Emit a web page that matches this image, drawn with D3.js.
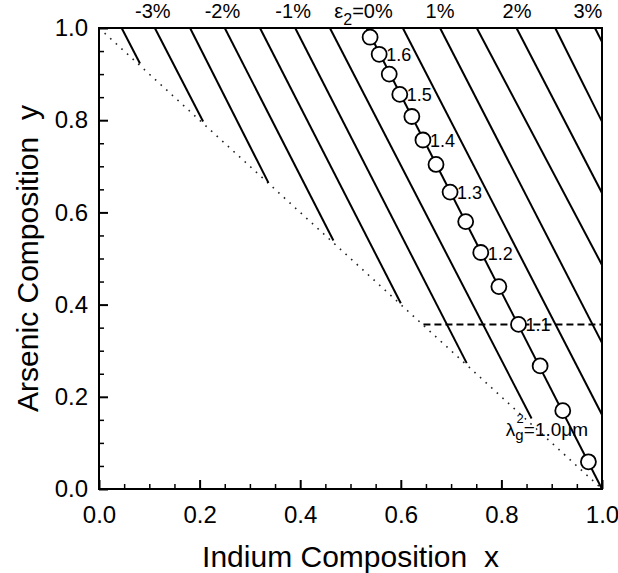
<!DOCTYPE html>
<meta charset="utf-8">
<div id="area"></div>

<script src="https://d3js.org/d3.v7.min.js"></script>

<style>
  body {
    background: #fff;
    margin: 0;
    font-family: "Liberation Sans", Arial, Helvetica, sans-serif;
  }
  svg text { fill: #000; white-space: pre; }
</style>

<script>
// iso-strain lines (eps2 in %), each one runs from the top edge (y = 1) to its end point
var strain = [-3.5, -3, -2.5, -2, -1.5, -1, -0.5, 0, 0.5, 1, 1.5, 2, 2.5, 3];
var topX   = [0.045, 0.111, 0.181, 0.250, 0.320, 0.390, 0.459, 0.532, 0.604, 0.678, 0.751, 0.830, 0.907, 0.986];
var endX   = [0.0815, 0.207, 0.337, 0.466, 0.600, 0.731, 0.860, 1, 1, 1, 1, 1, 1, 1];
var endY   = [0.923, 0.797, 0.664, 0.539, 0.403, 0.273, 0.153, 0, 0.161, 0.317, 0.486, 0.642, 0.797, 0.970];

// labels above the frame
var strainLabels = ["-3%", "-2%", "-1%", "0%", "1%", "2%", "3%"];
var strainLabelX = [0.107, 0.2455, 0.386, 0.526, 0.678, 0.831, 0.972];

// bandgap wavelength (um) points on the eps2 = 0 line
var wavelength = [1.65, 1.60, 1.55, 1.50, 1.45, 1.40, 1.35, 1.30, 1.25, 1.20, 1.15, 1.10, 1.05, 1.00, 0.95];
var circX = [0.539, 0.557, 0.577, 0.598, 0.622, 0.644, 0.670, 0.698, 0.729, 0.759, 0.795, 0.834, 0.877, 0.922, 0.973];
var circY = [0.980, 0.943, 0.900, 0.856, 0.808, 0.757, 0.704, 0.644, 0.580, 0.513, 0.439, 0.357, 0.267, 0.170, 0.059];
var wlLabeled = [1.6, 1.5, 1.4, 1.3, 1.2, 1.1];

// dotted boundary and dashed line
var boundX = [0, 1];
var boundY = [1, 0];
var dashX = [0.645, 1];
var dashY = [0.357, 0.357];

var xTicks = [0, 0.2, 0.4, 0.6, 0.8, 1.0];
var yTicks = [0, 0.2, 0.4, 0.6, 0.8, 1.0];

var margin = {top: 28, right: 16, bottom: 84, left: 99},
    width = 618 - margin.left - margin.right,
    height = 573 - margin.top - margin.bottom;

var svg = d3.select("#area")
  .append("svg")
    .attr("width", width + margin.left + margin.right)
    .attr("height", height + margin.top + margin.bottom)
  .append("g")
    .attr("transform", "translate(" + margin.left + "," + margin.top + ")");

var x = d3.scaleLinear().domain([0, 1]).range([0, width]);
var y = d3.scaleLinear().domain([0, 1]).range([height, 0]);

var minor = d3.range(0, 21).map(function(i) { return i * 0.05; })
  .filter(function(v) { return Math.abs(v * 5 - Math.round(v * 5)) > 1e-6; });

// minor ticks
svg.append("g")
  .attr("transform", "translate(0," + height + ")")
  .call(d3.axisBottom(x).tickValues(minor).tickSize(-5).tickFormat(""))
  .call(function(g) { g.select(".domain").remove(); })
  .selectAll("line").attr("stroke", "#000").attr("stroke-width", 1.5);
svg.append("g")
  .call(d3.axisLeft(y).tickValues(minor).tickSize(-5).tickFormat(""))
  .call(function(g) { g.select(".domain").remove(); })
  .selectAll("line").attr("stroke", "#000").attr("stroke-width", 1.5);

// major ticks + labels
var xAxis = svg.append("g")
  .attr("transform", "translate(0," + height + ")")
  .call(d3.axisBottom(x).tickValues(xTicks).tickSize(-9).tickPadding(17).tickFormat(d3.format(".1f")));
var yAxis = svg.append("g")
  .call(d3.axisLeft(y).tickValues(yTicks).tickSize(-9).tickPadding(11).tickFormat(d3.format(".1f")));
[xAxis, yAxis].forEach(function(a) {
  a.select(".domain").remove();
  a.selectAll("line").attr("stroke", "#000").attr("stroke-width", 2);
  a.selectAll("text").style("font-size", "24px").attr("fill", "#000")
    .style("font-family", "'Liberation Sans', Arial, sans-serif");
});

// dotted boundary
var line = d3.line().x(function(d) { return x(d[0]); }).y(function(d) { return y(d[1]); });
svg.append("path")
  .attr("d", line(d3.zip(boundX, boundY)))
  .attr("fill", "none")
  .attr("stroke", "#222")
  .attr("stroke-width", 1.6)
  .attr("stroke-dasharray", "1.6,6");

// dashed line at the 1.1 um point
svg.append("path")
  .attr("d", line(d3.zip(dashX, dashY)))
  .attr("fill", "none")
  .attr("stroke", "#000")
  .attr("stroke-width", 2)
  .attr("stroke-dasharray", "7,4");

// strain lines
svg.append("g")
  .selectAll("path")
  .data(strain)
  .enter()
  .append("path")
    .attr("d", function(d, i) { return line([[topX[i], 1], [endX[i], endY[i]]]); })
    .attr("fill", "none")
    .attr("stroke", "#000")
    .attr("stroke-width", 2);

// frame
svg.append("rect")
  .attr("width", width)
  .attr("height", height)
  .attr("fill", "none")
  .attr("stroke", "#000")
  .attr("stroke-width", 2);

// wavelength circles
svg.append("g")
  .selectAll("circle")
  .data(wavelength)
  .enter()
  .append("circle")
    .attr("cx", function(d, i) { return x(circX[i]); })
    .attr("cy", function(d, i) { return y(circY[i]); })
    .attr("r", 7.5)
    .attr("fill", "#fff")
    .attr("stroke", "#000")
    .attr("stroke-width", 1.8);

svg.append("g")
  .selectAll("text")
  .data(wavelength.filter(function(w) { return wlLabeled.indexOf(w) >= 0; }))
  .enter()
  .append("text")
    .attr("x", function(d) { return x(circX[wavelength.indexOf(d)]) + 7; })
    .attr("y", function(d) { return y(circY[wavelength.indexOf(d)]) + 7; })
    .style("font-size", "18px")
    .text(function(d) { return d.toFixed(1); });

// lambda_g = 1.0 um label
var iw = wavelength.indexOf(1.00);
var lam = svg.append("text")
  .attr("x", x(circX[iw]) - 57)
  .attr("y", y(circY[iw]) + 25)
  .style("font-size", "19px");
lam.append("tspan").text("λ");
lam.append("tspan").attr("dy", 4).style("font-size", "15px").text("g");
lam.append("tspan").attr("dx", -7).attr("dy", -17).style("font-size", "13px").text("2");
lam.append("tspan").attr("dy", 13).text("=1.0μm");

// strain labels above the frame
svg.append("g")
  .selectAll("text")
  .data(strainLabels)
  .enter()
  .append("text")
    .attr("x", function(d, i) { return x(strainLabelX[i]); })
    .attr("y", -10)
    .attr("text-anchor", "middle")
    .style("font-size", "20px")
    .each(function(d) {
      var t = d3.select(this);
      if (d === "0%") {
        t.append("tspan").text("ε");
        t.append("tspan").attr("dy", 7).style("font-size", "16px").text("2");
        t.append("tspan").attr("dy", -7).text("=0%");
      } else {
        t.text(d);
      }
    });

// axis titles
svg.append("text")
  .attr("x", width / 2)
  .attr("y", height + 78)
  .attr("text-anchor", "middle")
  .style("font-size", "30px")
  .text("Indium Composition  x");

svg.append("text")
  .attr("transform", "translate(" + (-61) + "," + (height / 2) + ")rotate(-90)")
  .attr("text-anchor", "middle")
  .style("font-size", "30px")
  .text("Arsenic Composition  y");
</script>
